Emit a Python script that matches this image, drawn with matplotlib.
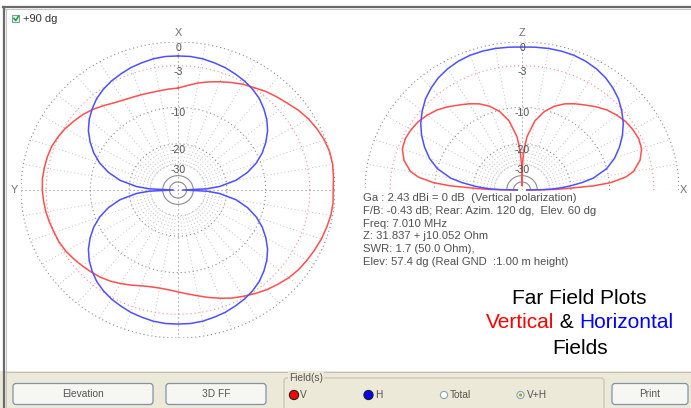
import numpy as np
import matplotlib.pyplot as plt
from matplotlib.patches import Rectangle, FancyBboxPatch, Circle

# ---- data (dB, 0 dB = 2.43 dBi) ----
# azimuth plot (left): compass angle, clockwise from X (top)
az_angle = [0, 5, 10, 15, 20, 25, 30, 35, 40, 45, 50, 55, 60, 65, 70, 75, 80, 85,
            90, 95, 100, 105, 110, 115, 120, 125, 130, 135, 140, 145, 150, 155, 160, 165, 170, 175,
            180, 185, 190, 195, 200, 205, 210, 215, 220, 225, 230, 235, 240, 245, 250, 255, 260, 265,
            270, 275, 280, 285, 290, 295, 300, 305, 310, 315, 320, 325, 330, 335, 340, 345, 350, 355, 360]
az_vert = [-6.4, -5.9, -5.3, -4.8, -4.3, -3.8, -3.3, -2.9, -2.4, -2.0, -1.6, -1.1, -0.7, -0.4, -0.15, 0.0, 0.0, -0.1,
           -0.2, -0.15, -0.2, -0.35, -0.5, -0.7, -0.9, -1.1, -1.4, -1.8, -2.2, -2.7, -3.2, -3.7, -4.3, -4.9, -5.5, -6.0,
           -6.4, -6.7, -6.8, -6.7, -6.4, -5.9, -5.4, -4.9, -4.5, -4.2, -3.9, -3.6, -3.3, -3.1, -3.0, -2.85, -2.7, -2.6,
           -2.5, -2.45, -2.5, -2.55, -2.65, -2.9, -3.2, -3.6, -4.0, -4.5, -5.1, -5.7, -6.1, -6.35, -6.5, -6.6, -6.6, -6.5, -6.4]

az_h_angle = [0, 5, 10, 15, 20, 25, 30, 35, 40, 45, 50, 55, 60, 65, 70, 75, 80, 85, 87.5,
              90, 92.5, 95, 100, 105, 110, 115, 120, 125, 130, 135, 140, 145, 150, 155, 160, 165, 170, 175,
              180, 185, 190, 195, 200, 205, 210, 215, 220, 225, 230, 235, 240, 245, 250, 255, 260, 265, 267.5,
              270, 272.5, 275, 280, 285, 290, 295, 300, 305, 310, 315, 320, 325, 330, 335, 340, 345, 350, 355, 360]
az_horiz = [-1.7, -1.7, -1.8, -2.0, -2.2, -2.5, -2.8, -3.2, -3.7, -4.4, -5.2, -6.2, -7.5, -9.0, -10.9, -13.4, -16.9, -22.9, -29.0,
            -60.0, -29.0, -22.9, -16.9, -13.4, -10.9, -9.0, -7.5, -6.2, -5.2, -4.4, -3.7, -3.2, -2.8, -2.5, -2.2, -2.0, -1.8, -1.7,
            -1.7, -1.7, -1.8, -2.0, -2.2, -2.5, -2.8, -3.2, -3.7, -4.4, -5.2, -6.2, -7.5, -9.0, -10.9, -13.4, -16.9, -22.9, -29.0,
            -60.0, -29.0, -22.9, -16.9, -13.4, -10.9, -9.0, -7.5, -6.2, -5.2, -4.4, -3.7, -3.2, -2.8, -2.5, -2.2, -2.0, -1.8, -1.7, -1.7]

# elevation plot (right): elevation angle, 0 = +X horizon, 90 = zenith, 180 = -X horizon
el_angle = [0, 1, 2, 3.5, 5, 7.5, 10, 15, 20, 25, 30, 35, 40, 45, 50, 55, 60, 65, 70, 75, 80, 85, 87.5, 89,
            90, 91, 92.5, 95, 100, 105, 110, 115, 120, 125, 130, 135, 140, 145, 150, 155, 160, 165, 170,
            172.5, 175, 176.5, 178, 179, 180]
el_vert = [-60, -27, -21.5, -13.5, -9.8, -7.0, -5.6, -4.3, -3.6, -3.4, -3.5, -3.7, -4.1, -4.6, -5.3, -6.1, -6.8, -7.6,
           -8.7, -10.3, -12.8, -17.5, -23, -30,
           -60, -30, -23, -17.5, -12.8, -10.3, -8.7, -7.6, -6.8, -6.1, -5.3, -4.6, -4.1, -3.7, -3.5, -3.4, -3.6, -4.3, -5.6,
           -7.0, -9.8, -13.5, -21.5, -27, -60]
el_horiz = [-60, -34, -28, -23.5, -20.4, -16.3, -13.3, -10.0, -8.0, -6.5, -5.2, -4.1, -3.2, -2.4, -1.8, -1.3, -0.95, -0.7,
            -0.55, -0.5, -0.5, -0.55, -0.58, -0.6,
            -0.6, -0.6, -0.58, -0.55, -0.5, -0.5, -0.55, -0.7, -0.95, -1.3, -1.8, -2.4, -3.2, -4.1, -5.2, -6.5, -8.0, -10.0, -13.3,
            -16.3, -20.4, -23.5, -28, -34, -60]

ring_db = [0, -3, -10, -20, -30]
info_lines = ["Ga : 2.43 dBi = 0 dB  (Vertical polarization)",
              "F/B: -0.43 dB; Rear: Azim. 120 dg,  Elev. 60 dg",
              "Freq: 7.010 MHz",
              "Z: 31.837 + j10.052 Ohm",
              "SWR: 1.7 (50.0 Ohm),",
              "Elev: 57.4 dg (Real GND  :1.00 m height)"]

RED = "#ff4f4f"
BLUE = "#4f4fff"
DOT = (0, (1, 2.6))

plt.rcParams['font.family'] = ['Liberation Sans', 'DejaVu Sans']


def arrl(db):
    # ARRL log scale: radius shrinks by 0.89 every 2 dB
    return 0.89 ** (-np.asarray(db, dtype=float) / 2.0)


W, H = 691, 408
fig = plt.figure(figsize=(W / 100, H / 100), dpi=100)

# window chrome in pixel units
bg = fig.add_axes([0, 0, 1, 1])
bg.set_xlim(0, W)
bg.set_ylim(H, 0)
bg.axis("off")
bg.add_patch(Rectangle((0, 371), W, H - 371, fc="#ece9d8", ec="none"))
bg.add_patch(Rectangle((6, 9), W - 6, 362, fc="white", ec="none"))
bg.plot([3, W], [7, 7], color="#6a6a6a", lw=1.6)
bg.plot([3, W], [8.8, 8.8], color="#c8c8c8", lw=0.8)
bg.plot([4.5, 4.5], [7, H], color="#6a6a6a", lw=1.6)
bg.plot([6, 6], [9, H], color="#c8c8c8", lw=0.8)
bg.plot([6, W], [371.5, 371.5], color="#c4c2b8", lw=0.8)

# checkbox
bg.add_patch(Rectangle((12.5, 15), 7, 7, fc="#e8f0f8", ec="#7a9cc0", lw=0.8))
bg.plot([14, 15.8, 18.5], [18.5, 20.5, 16.2], color="#22aa22", lw=1.2)
bg.text(23.5, 18.8, "+90 dg", fontsize=8, color="#333333", va="center", ha="left")

# buttons
for x0, x1, lab in [(13, 153, "Elevation"), (166, 266, "3D FF"), (612, 688, "Print")]:
    bg.add_patch(FancyBboxPatch((x0, 383.5), x1 - x0, 21, boxstyle="round,pad=0,rounding_size=3",
                                fc="#f6f6f3", ec="#7f93ab", lw=0.9))
    bg.text((x0 + x1) / 2, 394, lab, fontsize=7.3, color="#555555", ha="center", va="center")

# Field(s) group
bg.add_patch(FancyBboxPatch((284, 378), 320, 40, boxstyle="round,pad=0,rounding_size=3",
                            fc="none", ec="#c9c5b6", lw=0.9))
bg.text(289, 378, "Field(s)", fontsize=7.3, color="#555555", va="center", ha="left",
        bbox=dict(fc="#ece9d8", ec="none", pad=0.5))
bg.add_patch(Circle((294, 395), 4.6, fc="#ff0000", ec="#202020", lw=0.8))
bg.text(300, 395.5, "V", fontsize=7.3, color="#555555", va="center")
bg.add_patch(Circle((368.5, 395), 4.6, fc="#0000ff", ec="#202020", lw=0.8))
bg.text(375, 395.5, "H", fontsize=7.3, color="#555555", va="center")
bg.add_patch(Circle((444, 395), 3.6, fc="white", ec="#8aa0bb", lw=0.8))
bg.text(449.5, 395.5, "Total", fontsize=7.3, color="#555555", va="center")
bg.add_patch(Circle((520.5, 395), 3.6, fc="#f4f2e0", ec="#8aa0bb", lw=0.8))
bg.add_patch(Circle((520.5, 395), 1.6, fc="#8fb030", ec="none"))
bg.text(527, 395.5, "V+H", fontsize=7.3, color="#555555", va="center")

# info text
for i, line in enumerate(info_lines):
    bg.text(363, 198.3 + i * 12.7, line, fontsize=8.1, color="#505050", va="center", ha="left")

# caption, middle line built from three coloured pieces
CAP = 15
bg.text(579.5, 298, "Far Field Plots", fontsize=CAP, color="black", ha="center", va="center")
bg.text(580, 348, "Fields", fontsize=CAP, color="black", ha="center", va="center")
pieces = [("Vertical", "#ff0000"), (" & ", "black"), ("Horizontal", "#0000ff")]
objs = [bg.text(0, 323, s, fontsize=CAP, color=c, ha="left", va="center") for s, c in pieces]
fig.canvas.draw()
inv = bg.transData.inverted()
widths = []
for o in objs:
    e = o.get_window_extent()
    widths.append(inv.transform((e.x1, 0))[0] - inv.transform((e.x0, 0))[0])
x = 579.5 - sum(widths) / 2
for o, w in zip(objs, widths):
    o.set_x(x)
    x += w

# plot axes: 1 unit = 157 px horizontally, 148 px vertically
axL = fig.add_axes([21 / W, (H - 338) / H, 314 / W, 296 / H])
axR = fig.add_axes([365 / W, (H - 190) / H, 314 / W, 148 / H])
for ax in (axL, axR):
    ax.set_xlim(-1, 1)
    ax.axis("off")
    ax.patch.set_alpha(0)
axL.set_ylim(-1, 1)
axR.set_ylim(0, 1)


def grid(ax, full):
    t = np.linspace(0, 2 * np.pi if full else np.pi, 721 if full else 361)
    r30, r20, r0 = arrl(-30), arrl(-20), arrl(0)
    stop = 360 if full else 181
    for a in np.arange(0, stop, 5):
        if a % 90 == 0:
            continue
        ra = np.radians(a)
        outer = r0 if a % 10 == 0 else r20
        ax.plot([r30 * np.cos(ra), outer * np.cos(ra)], [r30 * np.sin(ra), outer * np.sin(ra)],
                color="#c2c2c2", lw=0.7, ls=DOT)
    for db in ring_db:
        r = arrl(db)
        if db == -3:
            col = "#ff8c8c"
        elif db == -30:
            col = "#c2c2c2"
        else:
            col = "#8c8c8c"
        ax.plot(r * np.cos(t), r * np.sin(t), color=col, lw=0.8, ls=DOT)
    for db in (-40, -50):
        r = arrl(db)
        ax.plot(r * np.cos(t), r * np.sin(t), color="#8c8c8c", lw=0.8)
    ax.plot([-1, 1], [0, 0], color="#8c8c8c", lw=0.8, ls=DOT)
    ax.plot([0, 0], [-1 if full else 0, 1], color="#8c8c8c", lw=0.8, ls=DOT)
    for db in ring_db:
        ax.text(0, arrl(db) - 0.04, "%d" % db, fontsize=7.6, color="#505050", ha="center", va="center")


grid(axL, True)
grid(axR, False)

# axis letters
axL.text(0, 1.06, "X", fontsize=7.8, color="#707070", ha="center", va="center", clip_on=False)
axL.text(-1.04, 0, "Y", fontsize=7.8, color="#707070", ha="center", va="center", clip_on=False)
axR.text(0, 1.06, "Z", fontsize=7.8, color="#707070", ha="center", va="center", clip_on=False)
axR.text(1.03, 0, "X", fontsize=7.8, color="#707070", ha="center", va="center", clip_on=False)

# azimuth patterns (compass angle -> x right, y up)
th = np.radians(az_angle)
rv = arrl(az_vert)
axL.plot(rv * np.sin(th), rv * np.cos(th), color=RED, lw=1.1, clip_on=False)
th = np.radians(az_h_angle)
rh = arrl(az_horiz)
axL.plot(rh * np.sin(th), rh * np.cos(th), color=BLUE, lw=1.1, clip_on=False)

# elevation patterns
el = np.radians(el_angle)
rv = arrl(el_vert)
axR.plot(rv * np.cos(el), rv * np.sin(el), color=RED, lw=1.1, clip_on=False)
rh = arrl(el_horiz)
axR.plot(rh * np.cos(el), rh * np.sin(el), color=BLUE, lw=1.1, clip_on=False)

fig.savefig("out.png", dpi=100)
